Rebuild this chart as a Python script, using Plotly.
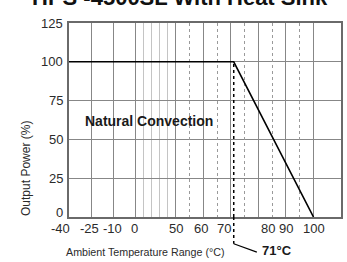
import numpy as np
import plotly.graph_objects as go

# ---- data ----
curve_temp = [-40, 71, 100]          # °C
curve_power = [100, 100, 0]          # %
derate_temp = 71
major_grid_temps = [-25, -10, 0, 50, 60, 70, 80, 90, 100]
light_grid_temps = [10, 20, 30, 40]
dotted_grid_temps = [55, 65, 75, 85, 95]
x_tick_temps = [-40, -25, -10, 0, 50, 60, 70, 80, 90, 100]
x_tick_text = ["-40", "-25", "-10", "0", "50", "60", "70", "80", "90", "100"]
x_tick_shift = [-9, -2, -1, -1, 0, -2, -7, 10, 0, 0]   # px label nudges (style)
y_ticks = [0, 25, 50, 75, 100, 125]
y_tick_text = ["0", "25", "50", "75", "100", "125"]
y_tick_shift = [5, 0, 0, 0, 0, 0]                      # px label nudges (style)

# ---- non-linear temperature scale of the chart (piecewise linear) ----
SCALE_T = [-40, -25, -10, 0, 50, 110]
SCALE_U = [0, 23, 44.6, 67.3, 108, 274.6]


def tx(t):
    return np.interp(np.asarray(t, dtype=float), SCALE_T, SCALE_U).tolist()


FONT = "Liberation Sans, Arial, sans-serif"
TXT = "#2b2b2b"

fig = go.Figure()

# 71°C dotted marker inside plot
fig.add_trace(go.Scatter(x=tx([derate_temp, derate_temp]), y=[0, 100], mode="lines",
                         line=dict(color="black", width=1.5, dash="dot"),
                         hoverinfo="skip", showlegend=False))
# derating curve
fig.add_trace(go.Scatter(x=tx(curve_temp), y=curve_power, mode="lines",
                         line=dict(color="black", width=1.6),
                         showlegend=False))
# invisible trace on the overlay axis so it gets drawn
fig.add_trace(go.Scatter(x=tx([-40]), y=[0], xaxis="x2", mode="markers",
                         marker=dict(opacity=0), hoverinfo="skip", showlegend=False))

xr = tx([-40, 110])

fig.update_layout(
    width=347, height=262,
    margin=dict(l=69, r=4, t=23, b=45),
    paper_bgcolor="white", plot_bgcolor="white",
    font=dict(family=FONT, size=13, color=TXT),
    xaxis=dict(range=xr, tickmode="array", tickvals=tx(major_grid_temps),
               showticklabels=False, ticks="",
               showgrid=True, gridcolor="#878787", gridwidth=1,
               minor=dict(tickvals=tx(light_grid_temps), showgrid=True,
                          gridcolor="#c4c4c4", gridwidth=1, ticks=""),
               showline=True, mirror=True, linecolor="#6a6a6a", linewidth=1.5,
               zeroline=False, fixedrange=True),
    xaxis2=dict(overlaying="x", range=xr, tickmode="array",
                tickvals=tx(dotted_grid_temps), showticklabels=False, ticks="",
                showgrid=True, gridcolor="#9a9a9a", gridwidth=1, griddash="dot",
                showline=False, zeroline=False),
    yaxis=dict(range=[0, 125], tickmode="array", tickvals=y_ticks,
               showticklabels=False, ticks="",
               showgrid=True, gridcolor="#878787", gridwidth=1,
               showline=True, mirror=True, linecolor="#6a6a6a", linewidth=1.5,
               zeroline=False, fixedrange=True),
)

# x tick labels
for t, s, dx in zip(x_tick_temps, x_tick_text, x_tick_shift):
    fig.add_annotation(x=tx(t), y=0, xref="x", yref="paper", text=s, showarrow=False,
                       xanchor="center", yanchor="middle", yshift=-11, xshift=dx,
                       font=dict(size=13, color=TXT))

# y tick labels
for v, s, dy in zip(y_ticks, y_tick_text, y_tick_shift):
    fig.add_annotation(x=0, y=v, xref="paper", yref="y", text=s, showarrow=False,
                       xanchor="right", yanchor="middle", xshift=-4, yshift=dy,
                       font=dict(size=13, color=TXT))

# axis titles
fig.add_annotation(x=-0.16, y=0.25, xref="paper", yref="paper",
                   text="Output Power (%)", textangle=-90, showarrow=False,
                   xanchor="center", yanchor="middle", font=dict(size=12, color=TXT))
fig.add_annotation(x=0.28, y=-0.18, xref="paper", yref="paper",
                   text="Ambient Temperature Range (°C)", showarrow=False,
                   xanchor="center", yanchor="middle", font=dict(size=10.7, color=TXT))

# title (cropped at top in reference)
fig.add_annotation(x=0.409, y=1.129, xref="paper", yref="paper",
                   text="<b>HPS -4500SL With Heat Sink</b>", showarrow=False,
                   xanchor="center", yanchor="middle",
                   font=dict(size=22, color="#111"))

# label inside plot
fig.add_annotation(x=tx(-31), y=62, xref="x", yref="y", text="<b>Natural Convection</b>",
                   showarrow=False, xanchor="left", yanchor="middle",
                   font=dict(size=14, color="#1a1a1a"))

# 71°C leader below the axis
x71 = tx(derate_temp)
fig.add_shape(type="line", xref="x", yref="paper", x0=x71, x1=x71, y0=0, y1=-0.138,
              line=dict(color="black", width=1.5, dash="dot"))
fig.add_shape(type="line", xref="x", yref="paper", x0=x71, x1=tx(79.4), y0=-0.138, y1=-0.181,
              line=dict(color="black", width=1.2))
fig.add_annotation(x=tx(80.4), y=-0.172, xref="x", yref="paper", text="<b>71°C</b>",
                   showarrow=False, xanchor="left", yanchor="middle",
                   font=dict(size=13, color="#1a1a1a"))

fig.write_html("out.html", config={"displayModeBar": False},
               post_script="document.body.style.margin='0';")
